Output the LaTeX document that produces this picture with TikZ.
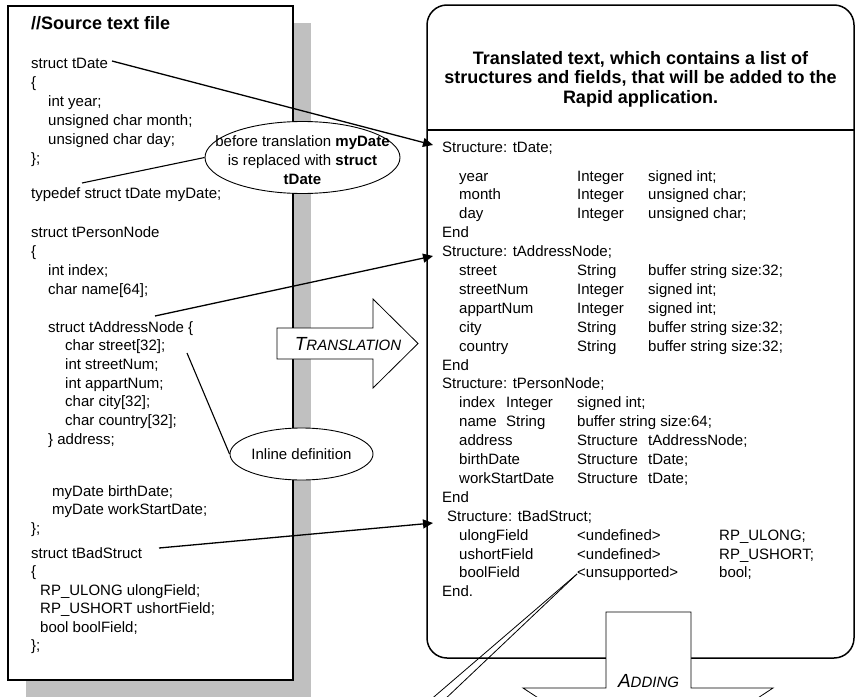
\documentclass[tikz,border=0pt]{standalone}
\usepackage{fontspec}
\setmainfont{Liberation Sans}
\usetikzlibrary{arrows.meta,shapes.geometric,calc}
\definecolor{shadowgray}{RGB}{192,192,192}
% fake small capitals: large initial, smaller rest
\newcommand{\fakesc}[2]{{\fontsize{19}{19}\selectfont #1}{\fontsize{15}{15}\selectfont #2}}
\begin{document}
\begin{tikzpicture}[x=1pt,y=-1pt,
  src/.style={anchor=base west,inner sep=0pt,font=\fontsize{15}{18}\selectfont},
  hdr/.style={anchor=base west,inner sep=0pt,font=\fontsize{18}{20}\selectfont\bfseries},
  conn/.style={line width=1.3pt,-{Triangle[length=10pt,width=9pt]}},
  plainline/.style={line width=1.1pt},
  thinline/.style={line width=0.8pt},
  bubble/.style={ellipse,draw,fill=white,line width=0.9pt,inner sep=0pt},
  blockarrow/.style={draw,fill=white,line width=0.8pt,line join=miter},
  arrowlabel/.style={anchor=base,inner sep=0pt,font=\itshape}]
\useasboundingbox (0,0) rectangle (856,696);

% ---------- source file panel ----------
\fill[shadowgray] (26,23) rectangle (311,697);
\draw[line width=2pt,fill=white] (8,6) rectangle (293,680);

\node[hdr] (hdr) at (31,29.5) {//Source text file};

\node[src] (s-tdate) at (31,68) {struct tDate};
\node[src] (s1) at (31,87) {\{};
\node[src] (s2) at (48,106) {int year;};
\node[src] (s3) at (48,125) {unsigned char month;};
\node[src] (s4) at (48,144) {unsigned char day;};
\node[src] (s5) at (31,163) {\};};
\node[src] (s-typedef) at (31,198) {typedef struct tDate myDate;};
\node[src] (s-person) at (31,237) {struct tPersonNode};
\node[src] (s7) at (31,256) {\{};
\node[src] (s8) at (48,275) {int index;};
\node[src] (s9) at (48,294) {char name[64];};
\node[src] (s-addr) at (48,332) {struct tAddressNode \{};
\node[src] (s-street) at (65,350) {char street[32];};
\node[src] (s11) at (65,369) {int streetNum;};
\node[src] (s12) at (65,388) {int appartNum;};
\node[src] (s13) at (65,406) {char city[32];};
\node[src] (s14) at (65,425) {char country[32];};
\node[src] (s15) at (48,444.5) {\} address;};
\node[src] (s16) at (52,496) {myDate birthDate;};
\node[src] (s17) at (52,514.5) {myDate workStartDate;};
\node[src] (s18) at (31,533) {\};};
\node[src] (s-bad) at (31,558) {struct tBadStruct};
\node[src] (s19) at (31,576.5) {\{};
\node[src] (s20) at (40,595) {RP\_ULONG ulongField;};
\node[src] (s21) at (40,613.5) {RP\_USHORT ushortField;};
\node[src] (s22) at (40,632) {bool boolField;};
\node[src] (s23) at (31,650.5) {\};};

% ---------- translated text panel ----------
\draw[line width=1.5pt,rounded corners=20pt,fill=white] (427,5) rectangle (854,658);
\draw[line width=1.3pt] (427,130) -- (854,130);

\node[font=\fontsize{18}{19.5}\selectfont\bfseries,align=center] (title) at (640.5,79.3)
  {Translated text, which contains a list of\\structures and fields, that will be added to the\\Rapid application.};

\node[src] (r-tdate) at (442,152) {Structure: tDate;};
\foreach \r/\a/\b/\c in {0/year/Integer/signed int;,
                         1/month/Integer/unsigned char;,
                         2/day/Integer/unsigned char;,
                         5/street/String/buffer string size:32;,
                         6/streetNum/Integer/signed int;,
                         7/appartNum/Integer/signed int;,
                         8/city/String/buffer string size:32;,
                         9/country/String/buffer string size:32;,
                         14/address/Structure/tAddressNode;,
                         15/birthDate/Structure/tDate;,
                         16/workStartDate/Structure/tDate;}{
  \pgfmathsetmacro{\yy}{181+18.9*\r}
  \node[src] (ra\r) at (459,\yy) {\a};
  \node[src] (rb\r) at (577,\yy) {\b};
  \node[src] (rc\r) at (648,\yy) {\c};
}
\node[src] (r-end1) at (442,237.7) {End};
\node[src] (r-addr) at (442,256.6) {Structure: tAddressNode;};
\node[src] (r-end2) at (442,370) {End};
\node[src] (r-person) at (442,388.9) {Structure: tPersonNode;};
\node[src] (ra12) at (459,407.8) {index};
\node[src] (rb12) at (506,407.8) {Integer};
\node[src] (rc12) at (577,407.8) {signed int;};
\node[src] (ra13) at (459,426.7) {name};
\node[src] (rb13) at (506,426.7) {String};
\node[src] (rc13) at (577,426.7) {buffer string size:64;};
\node[src] (r-end3) at (442,502.3) {End};
\node[src] (r-bad) at (447,521.2) {Structure: tBadStruct;};
\node[src] (ra19) at (459,540.1) {ulongField};
\node[src] (rb19) at (577,540.1) {<undefined>};
\node[src] (rc19) at (719,540.1) {RP\_ULONG;};
\node[src] (ra20) at (459,559) {ushortField};
\node[src] (rb20) at (577,559) {<undefined>};
\node[src] (rc20) at (719,559) {RP\_USHORT;};
\node[src] (ra21) at (459,577.9) {boolField};
\node[src] (r-unsup) at (577,577.9) {<unsupported>};
\node[src] (rc21) at (719,577.9) {bool;};
\node[src] (r-end4) at (442,596.8) {End.};

% ---------- remarks ----------
\node[bubble,minimum width=195pt,minimum height=72pt] (e1) at (302.5,157.5) {};
\node[font=\fontsize{15}{19}\selectfont,align=center,inner sep=0pt] (e1text) at (302.5,160.5)
  {before translation \textbf{myDate}\\is replaced with \textbf{struct}\\\textbf{tDate}};
\node[bubble,minimum width=143pt,minimum height=52pt,font=\fontsize{15}{18}\selectfont] (e2) at (301.5,454) {Inline definition};

\coordinate (f-typedef) at (82,183);
\coordinate (f-street) at (187,353);
\draw[plainline] (e1.west) -- (f-typedef);
\draw[plainline] (e2.west) -- (f-street);

% ---------- structure links ----------
\coordinate (f-tdate) at (112,61);
\coordinate (t-tdate) at (433,145);
\coordinate (f-addr) at (155,316);
\coordinate (t-addr) at (433,256);
\coordinate (f-bad) at (159,548);
\coordinate (t-bad) at (433,523);
\draw[conn] (f-tdate) -- (t-tdate);
\draw[conn] (f-addr) -- (t-addr);
\draw[conn] (f-bad) -- (t-bad);

% ---------- block arrows ----------
\draw[blockarrow] (277,328) -- (373,328) -- (373,299) -- (418,343.5) -- (373,388)
  -- (373,359) -- (277,359) -- cycle;
\node[arrowlabel] (translation) at (348,350) {\fakesc{T}{RANSLATION}};

\draw[blockarrow] (606,612) -- (691,612) -- (691,688) -- (773,688) -- (648.5,770)
  -- (523,688) -- (606,688) -- cycle;
\node[arrowlabel] (adding) at (648.5,687.5) {\fakesc{A}{DDING}};

% ---------- pointer to the unsupported field ----------
\coordinate (u-left) at (407,720);
\coordinate (u-right) at (423,720);
\draw[thinline] (r-unsup.west) -- (u-left);
\draw[thinline] (r-unsup.west) -- (u-right);
\end{tikzpicture}
\end{document}
